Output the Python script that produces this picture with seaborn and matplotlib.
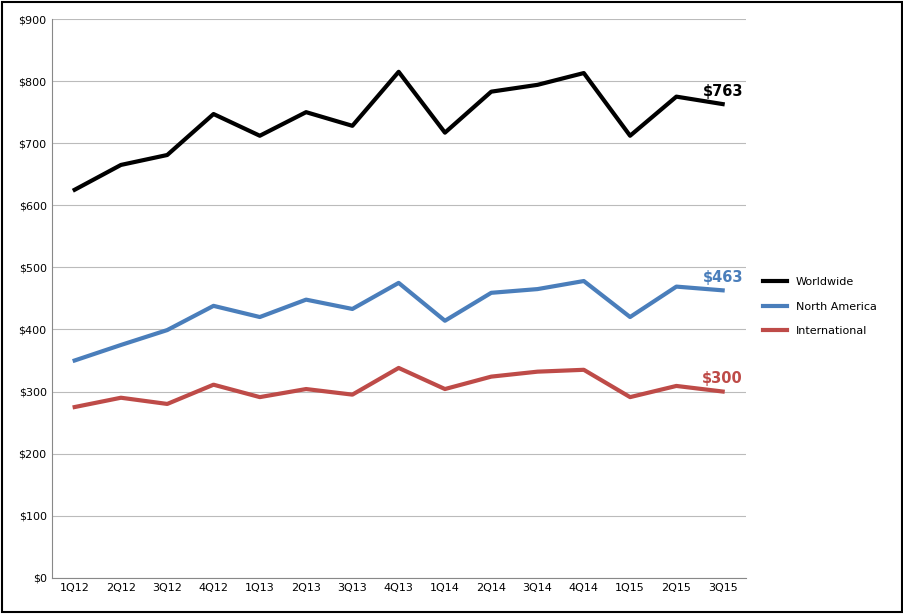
import pandas as pd
import matplotlib.pyplot as plt
import seaborn as sns

quarters = ['1Q12', '2Q12', '3Q12', '4Q12', '1Q13', '2Q13', '3Q13', '4Q13',
            '1Q14', '2Q14', '3Q14', '4Q14', '1Q15', '2Q15', '3Q15']
worldwide = [625, 665, 681, 747, 712, 750, 728, 815, 717, 783, 794, 813, 712, 775, 763]
north_america = [350, 375, 399, 438, 420, 448, 433, 475, 414, 459, 465, 478, 420, 469, 463]
international = [275, 290, 280, 311, 291, 304, 295, 338, 304, 324, 332, 335, 291, 309, 300]

series = {'Worldwide': worldwide, 'North America': north_america, 'International': international}
colors = {'Worldwide': '#000000', 'North America': '#4a7ebb', 'International': '#be4b48'}

rows = []
for name, vals in series.items():
    for i, v in enumerate(vals):
        rows.append({'x': i, 'value': v, 'series': name})
df = pd.DataFrame(rows)

fig = plt.figure(figsize=(9.04, 6.14), dpi=100)
ax = fig.add_axes([0.057, 0.059, 0.768, 0.91])
sns.lineplot(data=df, x='x', y='value', hue='series', palette=colors, linewidth=3, ax=ax)

ax.set_xlim(-0.5, len(quarters) - 0.5)
ax.set_ylim(0, 900)
ax.set_xticks(range(len(quarters)))
ax.set_xticklabels(quarters, fontsize=8)
ax.set_yticks(range(0, 901, 100))
ax.set_yticklabels([f'${v}' for v in range(0, 901, 100)], fontsize=8)
ax.yaxis.grid(True, color='#bbbbbb', linewidth=0.8)
ax.set_axisbelow(True)
ax.set_xlabel('')
ax.set_ylabel('')
for s in ['top', 'right']:
    ax.spines[s].set_visible(False)
ax.spines['left'].set_color('#888888')
ax.spines['bottom'].set_color('#888888')
ax.tick_params(length=0)

last = len(quarters) - 1
for name, vals in series.items():
    ax.annotate(f'${vals[-1]}', (last, vals[-1]), xytext=(0, 6), textcoords='offset points',
                ha='center', fontsize=10.5, fontweight='bold', color=colors[name])

leg = ax.legend(loc='center left', bbox_to_anchor=(1.01, 0.485), frameon=False,
                fontsize=8, handlelength=2.2, labelspacing=1.3)
for line in leg.get_lines():
    line.set_linewidth(3)

fig.patches.append(plt.Rectangle((0.002, 0.003), 0.996, 0.994, transform=fig.transFigure,
                                 fill=False, edgecolor='black', linewidth=1.5))
fig.savefig('out.png', dpi=100)
